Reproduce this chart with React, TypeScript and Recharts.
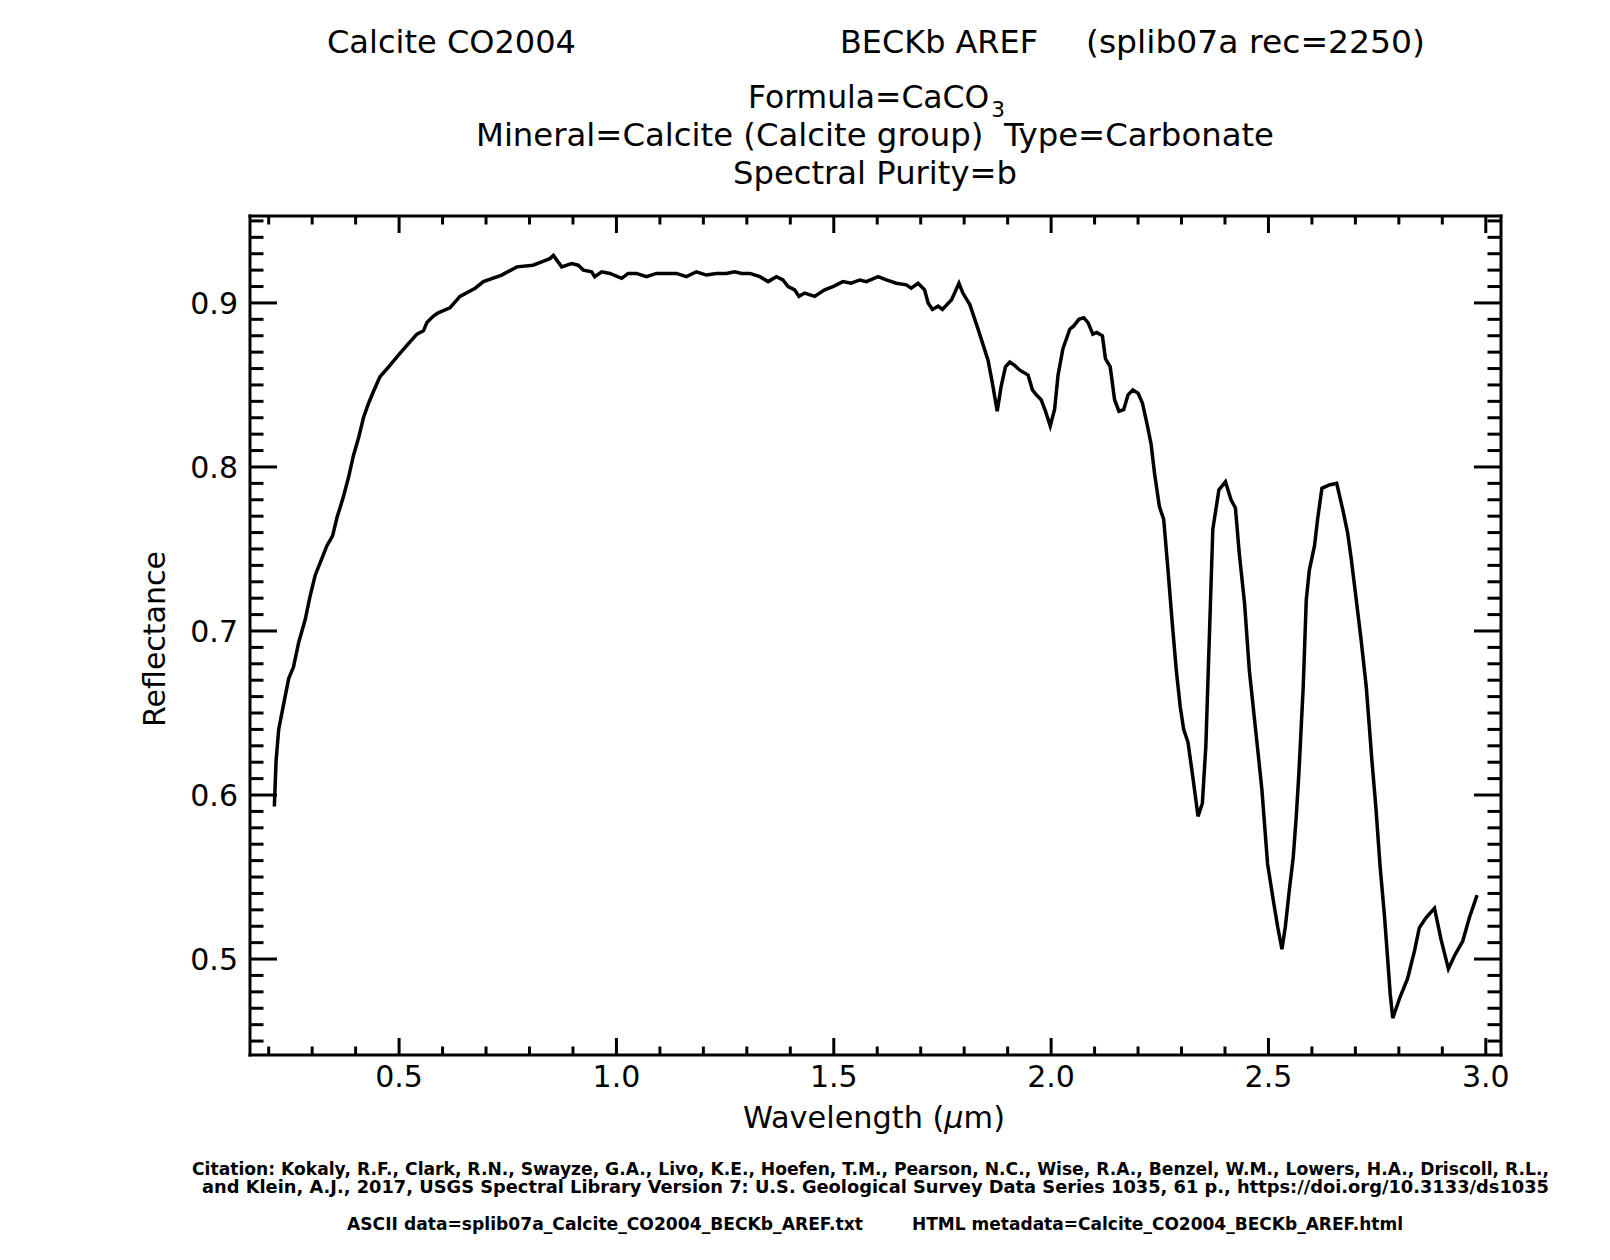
import React from "react";
import { LineChart, Line, XAxis, YAxis } from "recharts";

// Calcite CO2004 BECKb AREF
const wavelength = [
  0.213, 0.217, 0.223, 0.234, 0.246, 0.257, 0.269, 0.284, 0.295, 0.307,
  0.322, 0.334, 0.347, 0.357, 0.372, 0.384, 0.395, 0.407, 0.418, 0.43,
  0.441, 0.456, 0.476, 0.498, 0.521, 0.541, 0.556, 0.564, 0.579, 0.59,
  0.617, 0.64, 0.675, 0.694, 0.736, 0.771, 0.808, 0.828, 0.847, 0.855,
  0.874, 0.897,
  0.912, 0.924, 0.943, 0.95, 0.966, 0.985, 1.012, 1.027, 1.046, 1.069,
  1.092, 1.115, 1.138, 1.161, 1.184, 1.207, 1.23, 1.253, 1.272, 1.288,
  1.307, 1.33, 1.349, 1.368, 1.383, 1.395, 1.41, 1.42, 1.433, 1.456,
  1.479, 1.498, 1.521, 1.54, 1.56, 1.575, 1.602, 1.621, 1.644, 1.667,
  1.678, 1.694, 1.709, 1.717, 1.727, 1.74, 1.75, 1.771, 1.788, 1.797,
  1.813, 1.832, 1.855, 1.865, 1.876, 1.885, 1.895, 1.905, 1.916, 1.928,
  1.947, 1.957, 1.966, 1.977, 1.987, 1.998, 2.008, 2.016, 2.027, 2.043,
  2.052, 2.064, 2.075, 2.085, 2.096, 2.105, 2.118, 2.125, 2.136, 2.146,
  2.156, 2.167, 2.177, 2.188, 2.2, 2.21, 2.22, 2.23, 2.238, 2.249,
  2.259, 2.269, 2.278, 2.288, 2.297, 2.305, 2.315, 2.326, 2.338, 2.348,
  2.356, 2.372, 2.386, 2.401, 2.414, 2.424, 2.433, 2.445, 2.456, 2.468,
  2.478, 2.485, 2.498, 2.511, 2.521, 2.531, 2.539, 2.548, 2.557, 2.564,
  2.57, 2.58, 2.587, 2.594, 2.606, 2.613, 2.623, 2.64, 2.657, 2.671,
  2.682, 2.69, 2.702, 2.713, 2.725, 2.732, 2.738, 2.747, 2.757, 2.767,
  2.774, 2.78, 2.786, 2.803, 2.82, 2.836, 2.847, 2.862, 2.882, 2.897,
  2.914, 2.928, 2.947, 2.962, 2.98,
];

const reflectance = [
  0.593, 0.621, 0.64, 0.655, 0.671, 0.678, 0.693, 0.707, 0.721, 0.734,
  0.744, 0.752, 0.758, 0.769, 0.782, 0.794, 0.807, 0.818, 0.83, 0.839,
  0.846, 0.855, 0.861, 0.868, 0.875, 0.881, 0.883, 0.888, 0.892, 0.894,
  0.897, 0.904, 0.909, 0.913, 0.917, 0.922, 0.923, 0.925, 0.927, 0.929,
  0.922, 0.924,
  0.923, 0.92, 0.919, 0.916, 0.919, 0.918, 0.915, 0.918, 0.918, 0.916,
  0.918, 0.918, 0.918, 0.916, 0.919, 0.917, 0.918, 0.918, 0.919, 0.918,
  0.918, 0.916, 0.913, 0.916, 0.914, 0.91, 0.908, 0.904, 0.906, 0.904,
  0.908, 0.91, 0.913, 0.912, 0.914, 0.913, 0.916, 0.914, 0.912, 0.911,
  0.909, 0.912, 0.908, 0.9, 0.896, 0.898, 0.896, 0.902, 0.912, 0.906,
  0.899, 0.884, 0.865, 0.851, 0.834, 0.849, 0.861, 0.864, 0.862, 0.859,
  0.856, 0.847, 0.844, 0.841, 0.834, 0.825, 0.835, 0.856, 0.872, 0.884,
  0.886, 0.89, 0.891, 0.888, 0.881, 0.882, 0.88, 0.866, 0.861, 0.841,
  0.834, 0.835, 0.844, 0.847, 0.845, 0.839, 0.827, 0.814, 0.796, 0.776,
  0.768, 0.737, 0.707, 0.676, 0.654, 0.64, 0.632, 0.611, 0.587, 0.595,
  0.63, 0.762, 0.786, 0.791, 0.78, 0.775, 0.747, 0.717, 0.676, 0.646,
  0.621, 0.603, 0.558, 0.536, 0.52, 0.506, 0.52, 0.542, 0.562, 0.587,
  0.613, 0.666, 0.719, 0.737, 0.752, 0.768, 0.787, 0.789, 0.79, 0.774,
  0.76, 0.745, 0.719, 0.695, 0.666, 0.642, 0.621, 0.593, 0.556, 0.526,
  0.501, 0.479, 0.464, 0.477, 0.488, 0.505, 0.519, 0.525, 0.531, 0.512,
  0.494, 0.502, 0.511, 0.525, 0.539,
];

const xTicks = [
  0.2, 0.3, 0.4, 0.5, 0.6, 0.7, 0.8, 0.9, 1.0, 1.1, 1.2, 1.3, 1.4, 1.5,
  1.6, 1.7, 1.8, 1.9, 2.0, 2.1, 2.2, 2.3, 2.4, 2.5, 2.6, 2.7, 2.8, 2.9, 3.0,
];

const yTicks = [
  0.45, 0.46, 0.47, 0.48, 0.49, 0.5, 0.51, 0.52, 0.53, 0.54, 0.55, 0.56,
  0.57, 0.58, 0.59, 0.6, 0.61, 0.62, 0.63, 0.64, 0.65, 0.66, 0.67, 0.68,
  0.69, 0.7, 0.71, 0.72, 0.73, 0.74, 0.75, 0.76, 0.77, 0.78, 0.79, 0.8,
  0.81, 0.82, 0.83, 0.84, 0.85, 0.86, 0.87, 0.88, 0.89, 0.9, 0.91, 0.92,
  0.93, 0.94, 0.95,
];

const data = wavelength.map((w, i) => ({ wavelength: w, reflectance: reflectance[i] }));

const FONT = "'DejaVu Sans', Verdana, sans-serif";
const axisLine = { stroke: "#000", strokeWidth: 3, strokeLinecap: "square" as const };

const isMajorX = (v: number) => Math.abs(v * 2 - Math.round(v * 2)) < 1e-6;
const isMajorY = (v: number) => Math.abs(v * 10 - Math.round(v * 10)) < 1e-6;

function XTick(props: any) {
  const { x, y, payload, side } = props;
  const v = Number(payload.value);
  const major = isMajorX(v);
  const len = major ? 17 : 8.5;
  const dir = side === "top" ? 1 : -1;
  return (
    <g>
      <line x1={x} y1={y} x2={x} y2={y + dir * len} stroke="#000" strokeWidth={3} />
      {major && side === "bottom" && (
        <text x={x} y={y + 32} textAnchor="middle" fontFamily={FONT} fontSize={30} fill="#000">
          {v.toFixed(1)}
        </text>
      )}
    </g>
  );
}

function YTick(props: any) {
  const { x, y, payload, side } = props;
  const v = Number(payload.value);
  const major = isMajorY(v);
  const len = major ? 27 : 13.5;
  const dir = side === "right" ? -1 : 1;
  return (
    <g>
      <line x1={x} y1={y} x2={x + dir * len} y2={y} stroke="#000" strokeWidth={3} />
      {major && side === "left" && (
        <text x={x - 12} y={y + 11} textAnchor="end" fontFamily={FONT} fontSize={30} fill="#000">
          {v.toFixed(1)}
        </text>
      )}
    </g>
  );
}

function Labels() {
  const t = { fontFamily: FONT, fill: "#000" };
  return (
    <svg
      width={1610}
      height={1260}
      style={{ position: "absolute", left: 0, top: 0, pointerEvents: "none" }}
    >
      <g {...t} fontSize={32}>
        <text x={327} y={53} textLength={249} lengthAdjust="spacingAndGlyphs">Calcite CO2004</text>
        <text x={840} y={53} textLength={198} lengthAdjust="spacingAndGlyphs">BECKb AREF</text>
        <text x={1086} y={53} textLength={339} lengthAdjust="spacingAndGlyphs">(splib07a rec=2250)</text>
        <text x={748} y={108} textLength={257} lengthAdjust="spacingAndGlyphs">
          Formula=CaCO<tspan dx={2} dy={9} fontSize={22}>3</tspan>
        </text>
        <text x={476} y={146} textLength={798} lengthAdjust="spacingAndGlyphs">
          {"Mineral=Calcite (Calcite group)\u00a0\u00a0Type=Carbonate"}
        </text>
        <text x={733} y={184} textLength={284} lengthAdjust="spacingAndGlyphs">Spectral Purity=b</text>
      </g>
      <text {...t} x={743} y={1128} fontSize={30} textLength={262} lengthAdjust="spacingAndGlyphs">
        Wavelength (<tspan fontStyle="italic">µ</tspan>m)
      </text>
      <text
        {...t}
        x={0}
        y={0}
        fontSize={30}
        textAnchor="middle"
        transform="translate(165,639) rotate(-90)"
      >
        Reflectance
      </text>
      <g {...t} fontSize={17} fontWeight="bold">
        <text x={192} y={1175} textLength={1357} lengthAdjust="spacingAndGlyphs">
          Citation: Kokaly, R.F., Clark, R.N., Swayze, G.A., Livo, K.E., Hoefen, T.M., Pearson, N.C., Wise, R.A., Benzel, W.M., Lowers, H.A., Driscoll, R.L.,
        </text>
        <text x={202} y={1193} textLength={1347} lengthAdjust="spacingAndGlyphs">
          and Klein, A.J., 2017, USGS Spectral Library Version 7: U.S. Geological Survey Data Series 1035, 61 p., https://doi.org/10.3133/ds1035
        </text>
        <text x={347} y={1230} textLength={516} lengthAdjust="spacingAndGlyphs">
          ASCII data=splib07a_Calcite_CO2004_BECKb_AREF.txt
        </text>
        <text x={912} y={1230} textLength={491} lengthAdjust="spacingAndGlyphs">
          HTML metadata=Calcite_CO2004_BECKb_AREF.html
        </text>
      </g>
    </svg>
  );
}

export default function App() {
  const xDomain: [number, number] = [0.157, 3.035];
  const yDomain: [number, number] = [0.4415, 0.953];
  return (
    <div style={{ position: "absolute", left: 0, top: 0, width: 1610, height: 1260, background: "#fff" }}>
      <LineChart
        width={1610}
        height={1260}
        data={data}
        margin={{ top: 215, right: 108, bottom: 204, left: 249 }}
      >
        <XAxis
          dataKey="wavelength"
          type="number"
          domain={xDomain}
          allowDataOverflow
          ticks={xTicks}
          interval={0}
          height={1}
          tickSize={0}
          tickMargin={0}
          tickLine={false}
          axisLine={axisLine}
          tick={(p: any) => <XTick {...p} side="bottom" />}
        />
        <XAxis
          xAxisId="top"
          orientation="top"
          dataKey="wavelength"
          type="number"
          domain={xDomain}
          allowDataOverflow
          ticks={xTicks}
          interval={0}
          height={1}
          tickSize={0}
          tickMargin={0}
          tickLine={false}
          axisLine={axisLine}
          tick={(p: any) => <XTick {...p} side="top" />}
        />
        <YAxis
          type="number"
          domain={yDomain}
          allowDataOverflow
          ticks={yTicks}
          interval={0}
          width={1}
          tickSize={0}
          tickMargin={0}
          tickLine={false}
          axisLine={axisLine}
          tick={(p: any) => <YTick {...p} side="left" />}
        />
        <YAxis
          yAxisId="right"
          orientation="right"
          type="number"
          domain={yDomain}
          allowDataOverflow
          ticks={yTicks}
          interval={0}
          width={1}
          tickSize={0}
          tickMargin={0}
          tickLine={false}
          axisLine={axisLine}
          tick={(p: any) => <YTick {...p} side="right" />}
        />
        <Line
          type="linear"
          dataKey="reflectance"
          stroke="#000"
          strokeWidth={3.5}
          dot={false}
          isAnimationActive={false}
        />
      </LineChart>
      <Labels />
    </div>
  );
}
